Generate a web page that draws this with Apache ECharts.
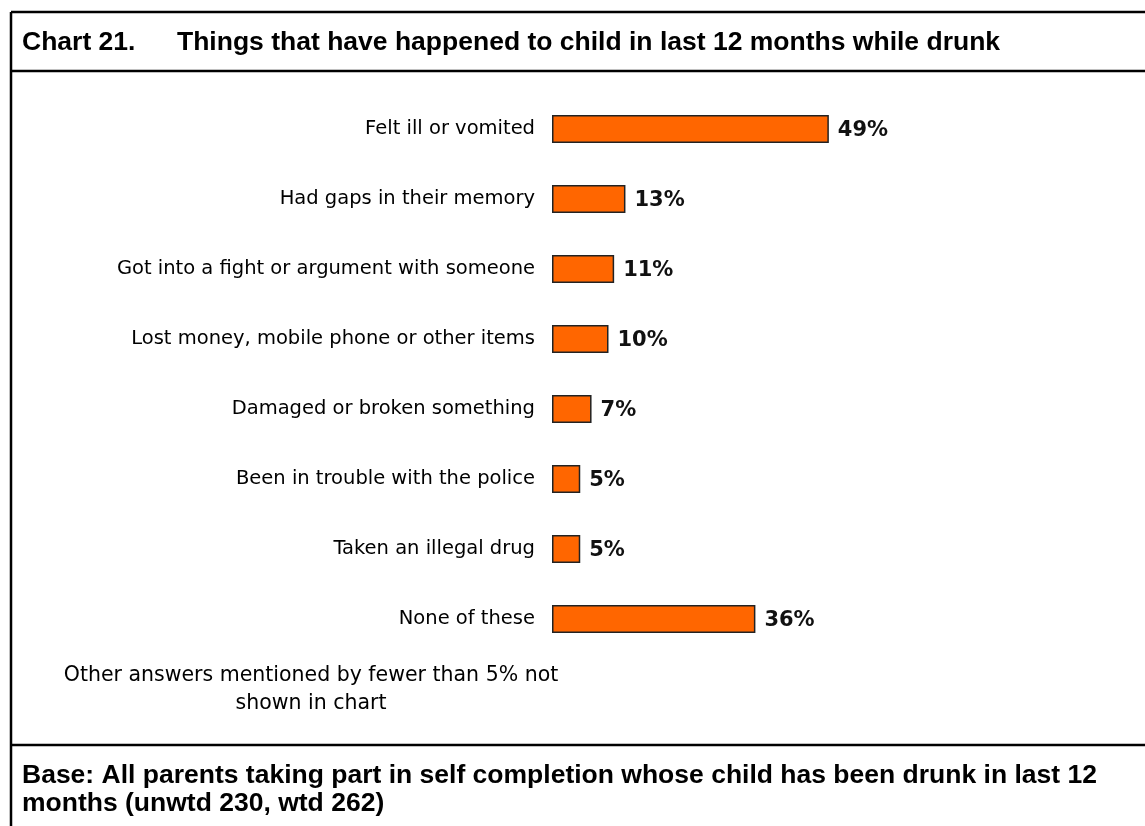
<!DOCTYPE html>
<html>
<head>
<meta charset="utf-8">
<script src="https://cdn.jsdelivr.net/npm/echarts@6/dist/echarts.min.js"></script>
<style>
  html, body { margin: 0; padding: 0; background: #ffffff; }
  #chart { width: 1145px; height: 826px; }
</style>
</head>
<body>
<div id="chart"></div>
<script>
// Survey responses: share of parents reporting each outcome
const categories = [
  'Felt ill or vomited',
  'Had gaps in their memory',
  'Got into a fight or argument with someone',
  'Lost money, mobile phone or other items',
  'Damaged or broken something',
  'Been in trouble with the police',
  'Taken an illegal drug',
  'None of these',
  'Other answers mentioned by fewer than 5% not\nshown in chart'
];
const values = [49, 13, 11, 10, 7, 5, 5, 36, '-'];

const chartNumber = 'Chart 21.';
const chartTitle = 'Things that have happened to child in last 12 months while drunk';
const baseNote = 'Base: All parents taking part in self completion whose child has been drunk in last 12\nmonths (unwtd 230, wtd 262)';

const noteIndex = categories.length - 1;
const chart = echarts.init(document.getElementById('chart'), null, { renderer: 'canvas' });

const lineStyle = { stroke: '#000', lineWidth: 2.5 };
const headFont = 'bold 26.5px "Liberation Sans", Arial, sans-serif';

chart.setOption({
  animation: false,
  backgroundColor: '#ffffff',
  grid: { left: 552, top: 94, width: 565, height: 630, containLabel: false },
  xAxis: {
    type: 'value', min: 0, max: 100,
    show: false
  },
  yAxis: {
    type: 'category',
    data: categories,
    inverse: true,
    axisLine: { show: false },
    axisTick: { show: false },
    axisLabel: {
      margin: 17,
      padding: [4, 0, 0, 0],
      fontFamily: 'DejaVu Sans',
      fontSize: 19.5,
      color: '#000',
      formatter: (v, i) => (i === noteIndex ? '' : v)
    }
  },
  series: [{
    type: 'bar',
    data: values,
    barWidth: 28,
    itemStyle: { color: '#FF6600', borderColor: '#222', borderWidth: 1.5 },
    label: {
      show: true,
      position: 'right',
      distance: 9,
      offset: [0, 2],
      formatter: p => p.value + '%',
      fontFamily: 'DejaVu Sans',
      fontWeight: 'bold',
      fontSize: 21,
      color: '#111'
    }
  }],
  graphic: [
    // frame lines
    { type: 'line', shape: { x1: 11, y1: 12, x2: 1145, y2: 12 }, style: lineStyle },
    { type: 'line', shape: { x1: 11, y1: 12, x2: 11, y2: 826 }, style: lineStyle },
    { type: 'line', shape: { x1: 11, y1: 71, x2: 1145, y2: 71 }, style: lineStyle },
    { type: 'line', shape: { x1: 11, y1: 745, x2: 1145, y2: 745 }, style: lineStyle },
    // heading
    { type: 'text', left: 22, top: 29, style: { text: chartNumber, font: headFont, fill: '#000' } },
    { type: 'text', left: 177, top: 29, style: { text: chartTitle, font: headFont, fill: '#000' } },
    // note under the bars
    { type: 'text', x: 311, y: 690, style: { text: categories[noteIndex], font: '20.5px "DejaVu Sans", sans-serif', fill: '#000', align: 'center', verticalAlign: 'middle', lineHeight: 28 } },
    // base
    { type: 'text', left: 22, top: 762, style: { text: baseNote, font: headFont, fill: '#000', lineHeight: 28 } }
  ]
});
</script>
</body>
</html>
